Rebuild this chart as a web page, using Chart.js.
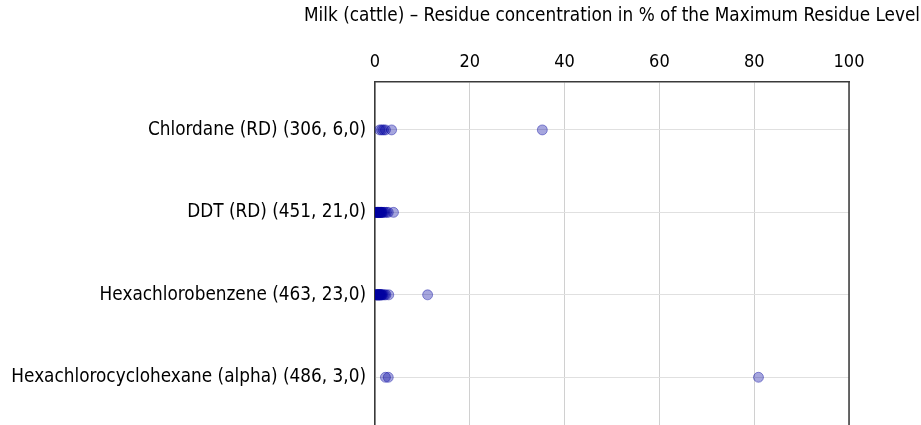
<!DOCTYPE html>
<html>
<head>
<meta charset="utf-8">
<script src="https://cdn.jsdelivr.net/npm/chart.js@4/dist/chart.umd.min.js"></script>
<style>
  html, body { margin: 0; padding: 0; background: #fff; overflow: hidden; }
  #wrap { width: 921px; height: 460px; }
</style>
</head>
<body>
<div id="wrap"><canvas id="chart" width="921" height="460"></canvas></div>
<script>
// =========================
// Data
// =========================

const categories = [
    "Chlordane (RD) (306, 6,0)",
    "DDT (RD) (451, 21,0)",
    "Hexachlorobenzene (463, 23,0)",
    "Hexachlorocyclohexane (alpha) (486, 3,0)"
];

const chlordaneValues = [1.0, 1.4, 1.8, 2.2, 3.5, 35.3];
const ddtValues = [0.2, 0.3, 0.4, 0.5, 0.5, 0.6, 0.7, 0.8, 0.8, 0.9, 1.0,
                   1.1, 1.2, 1.3, 1.4, 1.5, 1.7, 2.0, 2.4, 2.8, 3.9];
const hcbValues = [0.2, 0.3, 0.3, 0.4, 0.5, 0.5, 0.6, 0.7, 0.8, 0.8, 0.9,
                   1.0, 1.0, 1.1, 1.2, 1.3, 1.4, 1.5, 1.7, 2.0, 2.3, 2.9, 11.1];
const hchAlphaValues = [2.2, 2.8, 80.9];

const xTicks = [0, 20, 40, 60, 80, 100];
const axisTitle = "Milk (cattle) \u2013 Residue concentration in % of the Maximum Residue Level";

const FONT = "'DejaVu Sans Condensed', 'DejaVu Sans', sans-serif";

// =========================
// Helpers
// =========================

function toPoints(values, row) {
    return values.map(v => ({ x: v, y: row }));
}

const allPoints = []
    .concat(toPoints(chlordaneValues, 0))
    .concat(toPoints(ddtValues, 1))
    .concat(toPoints(hcbValues, 2))
    .concat(toPoints(hchAlphaValues, 3));

// right border of the frame + axis title centred over the plot (not squeezed)
const frameAndTitle = {
    id: "frameAndTitle",
    afterDraw(chart) {
        const { ctx, chartArea } = chart;
        ctx.save();
        ctx.strokeStyle = "#3a3a3a";
        ctx.lineWidth = 1.5;
        ctx.beginPath();
        ctx.moveTo(chartArea.right, chartArea.top);
        ctx.lineTo(chartArea.right, chartArea.bottom);
        ctx.stroke();

        ctx.fillStyle = "#000";
        ctx.font = "18.8px " + FONT;
        ctx.textAlign = "center";
        ctx.textBaseline = "middle";
        ctx.fillText(axisTitle, (chartArea.left + chartArea.right) / 2, 16);
        ctx.restore();
    }
};

// =========================
// Chart
// =========================

new Chart(document.getElementById("chart"), {
    type: "scatter",
    data: {
        datasets: [{
            data: allPoints,
            backgroundColor: "rgba(0, 0, 160, 0.35)",
            borderColor: "rgba(0, 0, 160, 0.4)",
            borderWidth: 1,
            pointRadius: 5,
            pointHoverRadius: 5
        }]
    },
    options: {
        responsive: false,
        animation: false,
        layout: { padding: { left: 0, right: 72, top: 0, bottom: 0 } },
        plugins: {
            legend: { display: false },
            tooltip: { enabled: false }
        },
        scales: {
            x: {
                type: "linear",
                position: "top",
                min: 0,
                max: 100,
                afterBuildTicks: s => { s.ticks = xTicks.map(v => ({ value: v })); },
                afterFit: s => { s.height = 82; },
                ticks: {
                    color: "#000",
                    padding: 9,
                    font: { family: FONT, size: 18 }
                },
                grid: {
                    color: "#d0d0d0",
                    lineWidth: 1,
                    tickLength: 0,
                    drawTicks: false
                },
                border: { display: true, color: "#3a3a3a", width: 1.5 }
            },
            y: {
                type: "linear",
                reverse: true,
                min: -0.581,
                max: 3.757,
                afterBuildTicks: s => { s.ticks = categories.map((c, i) => ({ value: i })); },
                afterFit: s => { s.width = 375; },
                ticks: {
                    color: "#000",
                    padding: 9,
                    font: { family: FONT, size: 18.8 },
                    callback: v => categories[v]
                },
                grid: {
                    color: "#e0e0e0",
                    lineWidth: 1,
                    drawTicks: false
                },
                border: { display: true, color: "#3a3a3a", width: 1.5 }
            }
        }
    },
    plugins: [frameAndTitle]
});
</script>
</body>
</html>
